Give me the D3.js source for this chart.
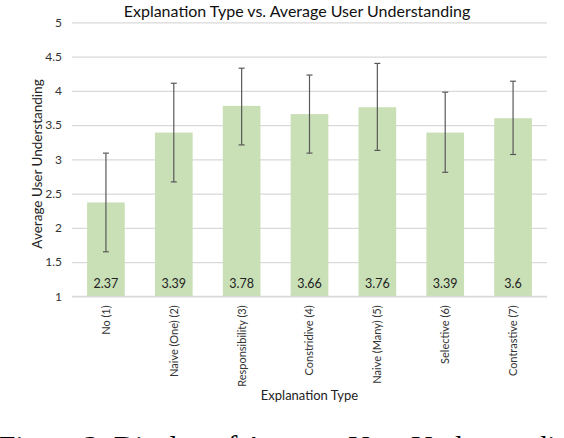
<!DOCTYPE html>
<html>
<head>
<meta charset="utf-8">
<script src="https://cdn.jsdelivr.net/npm/d3@7/dist/d3.min.js"></script>
<style>
  html, body { margin: 0; padding: 0; background: #fff; overflow: hidden; }
  svg { display: block; }
</style>
</head>
<body>
<svg id="chart" width="564" height="438"></svg>
<script>
const categories = ["No (1)", "Naive (One) (2)", "Responsibility (3)", "Constridive (4)", "Naive (Many) (5)", "Selective (6)", "Contrastive (7)"];
const values = [2.37, 3.39, 3.78, 3.66, 3.76, 3.39, 3.6];
const errUpper = [3.09, 4.11, 4.33, 4.23, 4.40, 3.98, 4.14];
const errLower = [1.65, 2.67, 3.21, 3.09, 3.13, 2.81, 3.07];
const yTicks = [1, 1.5, 2, 2.5, 3, 3.5, 4, 4.5, 5];
const yTickLabels = ["1", "1.5", "2", "2.5", "3", "3.5", "4", "4.5", "5"];
const titleText = "Explanation Type vs. Average User Understanding";
const xTitle = "Explanation Type";
const yTitle = "Average User Understanding";
const captionText = "Figure 3: Display of Average User Understanding";

const svg = d3.select("#chart");
const font = "Lato, 'Open Sans', sans-serif";
const plotL = 72, plotR = 547, plotT = 22.3, plotB = 296.3;

const x = d3.scaleBand().domain(categories).range([plotL, plotR]).paddingInner(0.445).paddingOuter(0.2225);
const y = d3.scaleLinear().domain([1, 5]).range([plotB, plotT]);

// gridlines
const yAxis = d3.axisLeft(y).tickValues(yTicks).tickFormat((d, i) => yTickLabels[i]).tickSize(-(plotR - plotL)).tickPadding(10);
const gy = svg.append("g").attr("transform", `translate(${plotL},0)`).call(yAxis);
gy.select(".domain").remove();
gy.selectAll(".tick line").attr("stroke", "#d9d9d9").attr("stroke-width", 1.3);
gy.selectAll(".tick text").attr("font-family", font).attr("font-size", 12).attr("fill", "#333");

// bars
svg.append("g").selectAll("rect").data(values).join("rect")
  .attr("x", (d, i) => x(categories[i]))
  .attr("y", d => y(d))
  .attr("width", x.bandwidth())
  .attr("height", d => y(1) - y(d))
  .attr("fill", "#c9dfb6");

// error bars
const eg = svg.append("g").attr("stroke", "#595959").attr("stroke-width", 1.2);
categories.forEach((c, i) => {
  const cx = x(c) + x.bandwidth() / 2;
  eg.append("line").attr("x1", cx).attr("x2", cx).attr("y1", y(errUpper[i])).attr("y2", y(errLower[i]));
  eg.append("line").attr("x1", cx - 3).attr("x2", cx + 3).attr("y1", y(errUpper[i])).attr("y2", y(errUpper[i]));
  eg.append("line").attr("x1", cx - 3).attr("x2", cx + 3).attr("y1", y(errLower[i])).attr("y2", y(errLower[i]));
});

// data labels
svg.append("g").selectAll("text").data(values).join("text")
  .attr("x", (d, i) => x(categories[i]) + x.bandwidth() / 2)
  .attr("y", y(1) - 8)
  .attr("text-anchor", "middle")
  .attr("font-family", font).attr("font-size", 12.5).attr("fill", "#222")
  .text(d => d);

// x axis
const xAxis = d3.axisBottom(x).tickSize(0).tickPadding(0);
const gx = svg.append("g").attr("transform", `translate(0,${plotB})`).call(xAxis);
gx.select(".domain").attr("stroke", "#d9d9d9").attr("stroke-width", 1.3).attr("d", `M${plotL},0H${plotR}`);
gx.selectAll(".tick text")
  .attr("font-family", font).attr("font-size", 11).attr("fill", "#333")
  .attr("text-anchor", "end")
  .attr("transform", "rotate(-90)")
  .attr("x", -9).attr("y", 0).attr("dy", "0.35em");

// titles
svg.append("text").attr("x", 297).attr("y", 17).attr("text-anchor", "middle")
  .attr("font-family", font).attr("font-size", 16).attr("fill", "#111").text(titleText);
svg.append("text").attr("x", 309.5).attr("y", 400).attr("text-anchor", "middle")
  .attr("font-family", font).attr("font-size", 13).attr("fill", "#222").text(xTitle);
svg.append("text").attr("transform", "translate(42,164) rotate(-90)").attr("text-anchor", "middle")
  .attr("font-family", font).attr("font-size", 13.5).attr("fill", "#222").text(yTitle);

// caption (cropped at the bottom edge, as in the reference)
svg.append("text").attr("x", -1).attr("y", 456)
  .attr("font-family", "'Liberation Serif', 'DejaVu Serif', serif").attr("font-size", 29.5).attr("fill", "#000")
  .text(captionText);
</script>
</body>
</html>
